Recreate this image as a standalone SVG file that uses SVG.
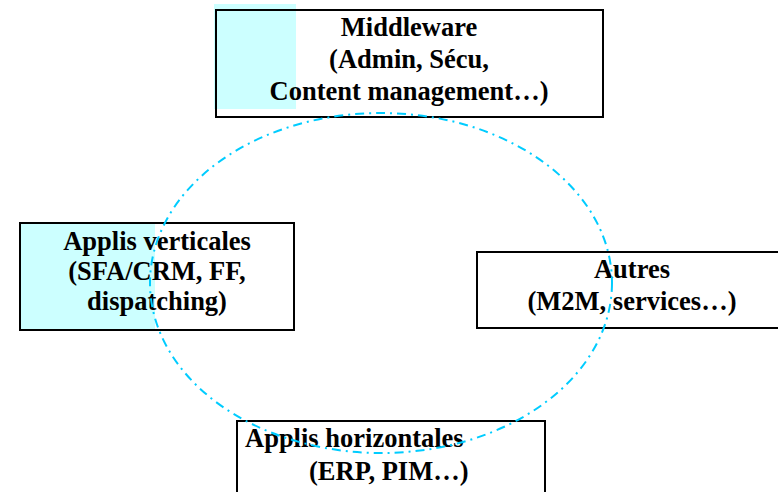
<svg xmlns="http://www.w3.org/2000/svg" width="778" height="492" viewBox="0 0 778 492">
<style>
.box{fill:none;stroke:#000;stroke-width:2}
.hl{fill:#CCFFFF}
.t{font-family:"Liberation Serif","Times New Roman",serif;font-weight:bold;font-size:26.5px;fill:#000}
.c{text-anchor:middle}
.ring{fill:none;stroke:#00CCFF;stroke-width:2;stroke-dasharray:9 5 2 5}
</style>
<rect width="778" height="492" fill="#fff"/>
<g id="middleware">
<rect class="hl" x="214" y="4" width="82" height="105"/>
<rect class="box" x="216" y="10" width="387" height="107"/>
<text class="t c" x="409" y="36">Middleware</text>
<text class="t c" x="409" y="68">(Admin, Sécu,</text>
<text class="t c" x="409" y="100">Content management…)</text>
</g>
<g id="verticales">
<rect class="hl" x="20" y="223" width="135" height="107"/>
<rect class="box" x="20" y="223" width="274" height="107"/>
<text class="t c" x="157" y="250">Applis verticales</text>
<text class="t c" x="157" y="280">(SFA/CRM, FF,</text>
<text class="t c" x="157" y="310">dispatching)</text>
</g>
<g id="autres">
<rect class="box" x="477" y="252" width="310" height="76"/>
<text class="t c" x="632" y="278">Autres</text>
<text class="t c" x="632" y="310">(M2M, services…)</text>
</g>
<g id="horizontales">
<rect class="box" x="237" y="421" width="308" height="80"/>
<text class="t" x="245" y="447">Applis horizontales</text>
<text class="t" x="309" y="480">(ERP, PIM…)</text>
</g>
<g id="connectors">
<ellipse class="ring" cx="381" cy="283" rx="231" ry="170"/>
</g>
</svg>
